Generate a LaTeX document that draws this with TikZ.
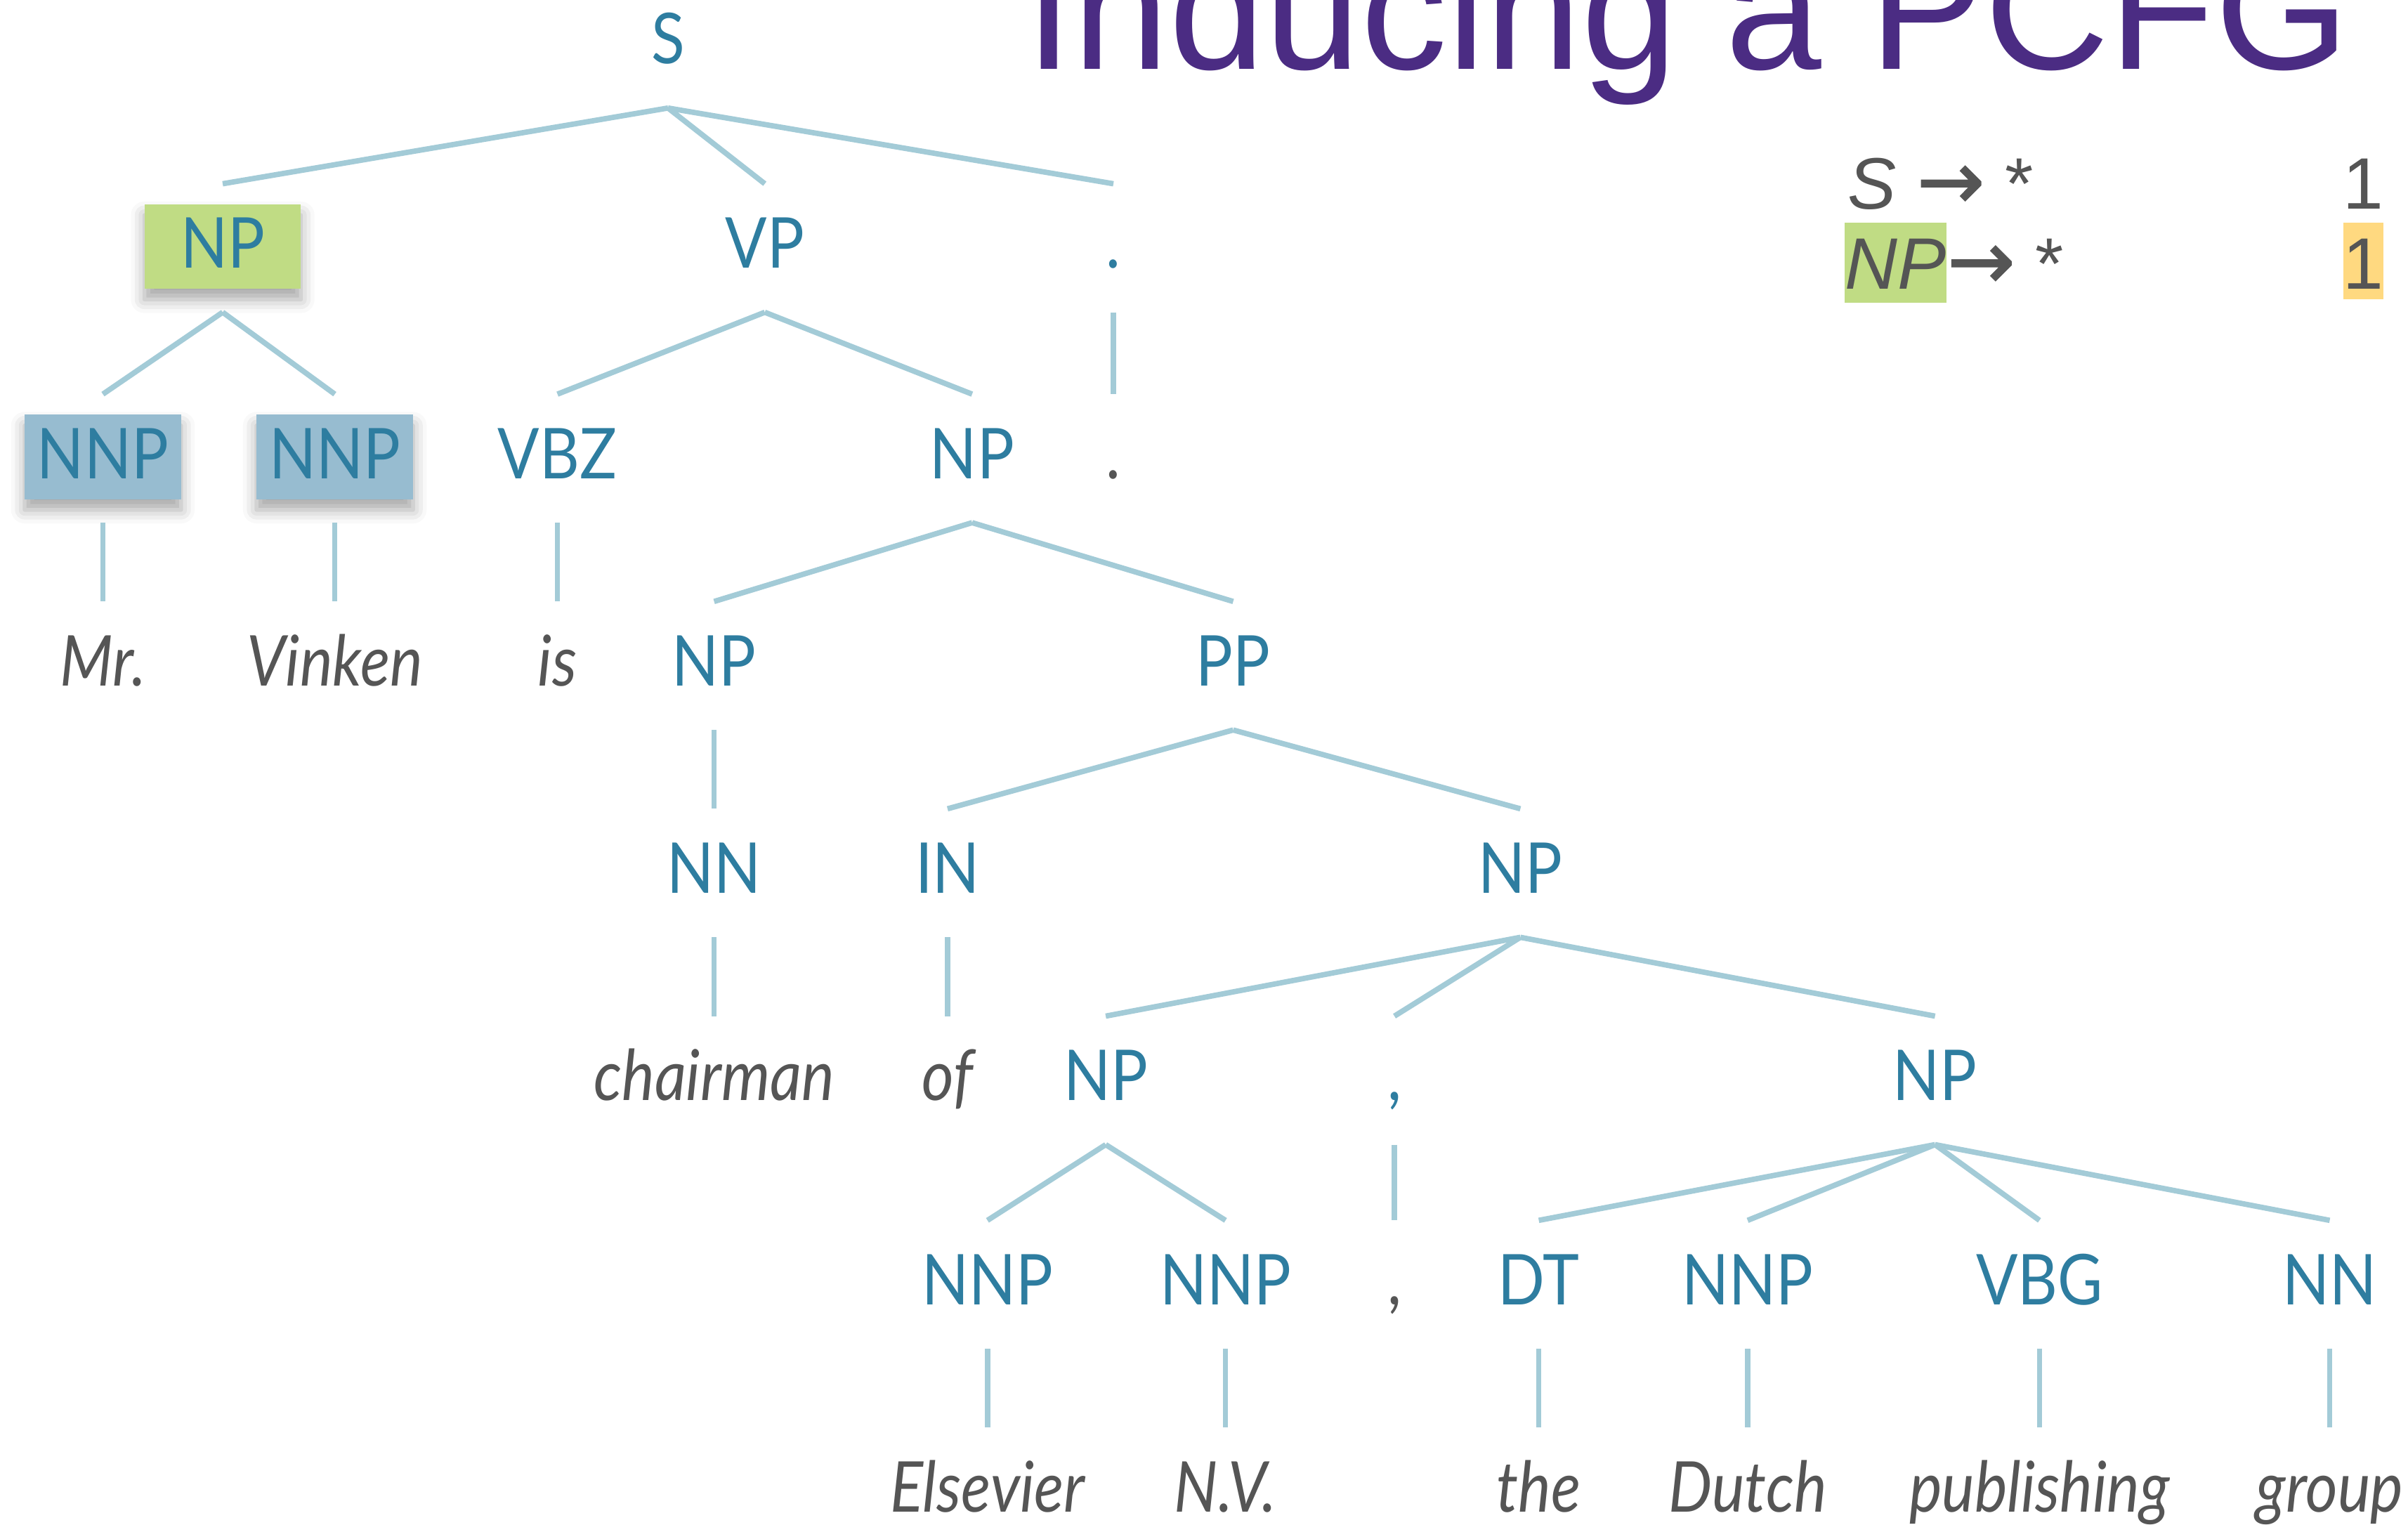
\documentclass[tikz,border=0pt]{standalone}
\usepackage{fontspec}
\setmainfont{Liberation Sans}
\newfontfamily\treefont{Lato}[FakeStretch=0.88]
\newfontfamily\arrowfont{DejaVu Sans}[FakeBold=1.5]
\usetikzlibrary{shadows.blur}

\definecolor{catblue}{HTML}{2E7DA0}
\definecolor{branchblue}{HTML}{A3CBD7}
\definecolor{wordgrey}{HTML}{555555}
\definecolor{npgreen}{HTML}{C0DC84}
\definecolor{nnpblue}{HTML}{97BCD0}
\definecolor{titlepurple}{HTML}{4B2C83}
\definecolor{probyellow}{HTML}{FFD980}

\newcommand{\ruleto}{{\arrowfont\fontsize{30}{30}\selectfont →}}

\tikzset{
  cat/.style={font=\treefont\fontsize{26}{26}\selectfont, text=catblue, anchor=base,
    inner sep=0pt, text height=0.83cm, text depth=0.27cm},
  word/.style={cat, text=wordgrey, font=\treefont\itshape\fontsize{26}{26}\selectfont},
  hlbox/.style={minimum width=2.04cm, blur shadow={shadow xshift=0pt, shadow yshift=-4pt,
    shadow blur radius=5pt, shadow opacity=35}},
  branch/.style={draw=branchblue, line width=2pt},
  rule/.style={font=\fontsize{27}{27}\selectfont, text=wordgrey, inner sep=0pt}
}

\begin{document}
\begin{tikzpicture}[x=0.02cm, y=-0.02cm]
  \useasboundingbox (0,0) rectangle (1568,993);
  \clip (0,0) rectangle (1568,993);

  % title, cut at the top edge
  \node[anchor=base west, inner sep=0pt, text=titlepurple, font=\fontsize{64}{64}\selectfont]
    (title) at (667,45) {Inducing a PCFG};

  % rules seen so far
  \node[rule, anchor=base west] (rs) at (1203,136) {\textit{S} \ruleto\ *};
  \node[rule, anchor=base west, fill=npgreen, text height=0.86cm, text depth=0.18cm]
    (rnp) at (1201,188) {\textit{NP}};
  \node[rule, anchor=base west] (rarrow) at (rnp.base east) {\ruleto\ *};
  \node[rule, anchor=base] (rsone) at (1539,136) {1};
  \node[rule, anchor=base, fill=probyellow, text height=0.86cm, text depth=0.14cm]
    (rnpone) at (1539,188) {1};

  % categories and words of the tree
  \node[cat] (s) at (435,41.5) {S};

  \node[cat, hlbox, fill=npgreen] (np1) at (145,174.5) {NP};
  \node[cat] (vp) at (498,174.5) {VP};
  \node[cat] (dot1) at (725,174.5) {.};

  \node[cat, hlbox, fill=nnpblue] (nnp1) at (67,311.5) {NNP};
  \node[cat, hlbox, fill=nnpblue] (nnp2) at (218,311.5) {NNP};
  \node[cat] (vbz) at (363,311.5) {VBZ};
  \node[cat] (np2) at (633,311.5) {NP};
  \node[word, font=\treefont\fontsize{26}{26}\selectfont] (dotw) at (725,311.5) {.};

  \node[word] (mr) at (67,446.5) {Mr.};
  \node[word] (vinken) at (218,446.5) {Vinken};
  \node[word] (is) at (363,446.5) {is};
  \node[cat] (np3) at (465,446.5) {NP};
  \node[cat] (pp) at (803,446.5) {PP};

  \node[cat] (nn1) at (465,581.5) {NN};
  \node[cat] (in) at (617,581.5) {IN};
  \node[cat] (np4) at (990,581.5) {NP};

  \node[word] (chairman) at (465,716.5) {chairman};
  \node[word] (of) at (617,716.5) {of};
  \node[cat] (np5) at (720,716.5) {NP};
  \node[cat] (comma1) at (908,716.5) {,};
  \node[cat] (np6) at (1260,716.5) {NP};

  \node[cat] (nnp3) at (643,849.5) {NNP};
  \node[cat] (nnp4) at (798,849.5) {NNP};
  \node[word, font=\treefont\fontsize{26}{26}\selectfont] (commaw) at (908,849.5) {,};
  \node[cat] (dt) at (1002,849.5) {DT};
  \node[cat] (nnp5) at (1138,849.5) {NNP};
  \node[cat] (vbg) at (1328,849.5) {VBG};
  \node[cat] (nn2) at (1517,849.5) {NN};

  \node[word] (elsevier) at (643,984.5) {Elsevier};
  \node[word] (nv) at (798,984.5) {N.V.};
  \node[word] (the) at (1002,984.5) {the};
  \node[word] (dutch) at (1138,984.5) {Dutch};
  \node[word] (publishing) at (1328,984.5) {publishing};
  \node[word] (group) at (1517,984.5) {group};

  % branches: all children of a node meet in one point under it
  \foreach \a/\b in {s/np1, s/vp, s/dot1, np1/nnp1, np1/nnp2, vp/vbz, vp/np2, dot1/dotw,
      nnp1/mr, nnp2/vinken, vbz/is, np2/np3, np2/pp, np3/nn1, pp/in, pp/np4,
      nn1/chairman, in/of, np4/np5, np4/comma1, np4/np6, np5/nnp3, np5/nnp4,
      comma1/commaw, np6/dt, np6/nnp5, np6/vbg, np6/nn2, nnp3/elsevier, nnp4/nv,
      dt/the, nnp5/dutch, vbg/publishing, nn2/group}
    \draw[branch] ([yshift=-0.3cm]\a.south) -- ([yshift=0.26cm]\b.north);
\end{tikzpicture}
\end{document}
